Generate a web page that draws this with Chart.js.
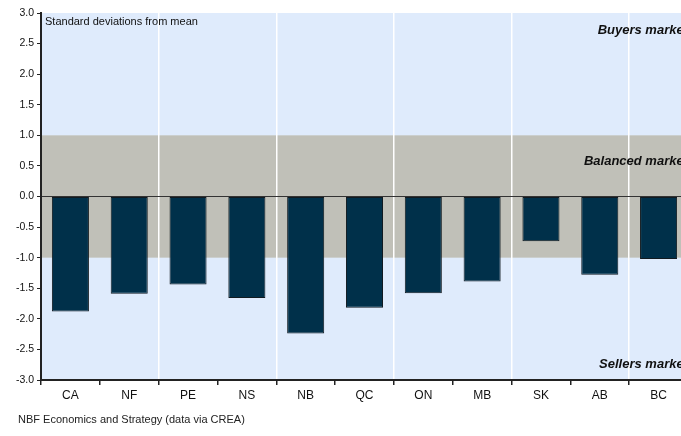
<!DOCTYPE html>
<html>
<head>
<meta charset="utf-8">
<script src="https://cdn.jsdelivr.net/npm/chart.js@4"></script>
<style>
  html, body { margin: 0; padding: 0; overflow: hidden; background: #fff; }
  #wrap { width: 681px; height: 436px; overflow: hidden; }
</style>
</head>
<body>
<div id="wrap"><canvas id="myChart" width="700" height="436"></canvas></div>
<script>
// provinces + national
const regions = ['CA', 'NF', 'PE', 'NS', 'NB', 'QC', 'ON', 'MB', 'SK', 'AB', 'BC'];
const stdDevs = [-1.88, -1.59, -1.44, -1.66, -2.24, -1.82, -1.58, -1.39, -0.73, -1.28, -1.02];
const balancedBand = [-1.0, 1.0];
const zoneLabels = ['Buyers market', 'Balanced market', 'Sellers market'];
const zoneLabelValues = [2.72, 0.57, -2.74];

const FONT = "'Liberation Sans', Arial, sans-serif";

const backdrop = {
  id: 'backdrop',
  beforeDraw(chart) {
    const { ctx, chartArea: a, scales: { y } } = chart;
    ctx.save();
    ctx.fillStyle = '#dfebfc';
    ctx.fillRect(a.left, a.top, a.right - a.left, a.bottom - a.top);
    const yTop = y.getPixelForValue(balancedBand[1]);
    const yBot = y.getPixelForValue(balancedBand[0]);
    ctx.fillStyle = '#c0c0b8';
    ctx.fillRect(a.left, yTop, a.right - a.left, yBot - yTop);
    ctx.restore();
  },
  afterDraw(chart) {
    const { ctx, chartArea: a, scales: { y } } = chart;
    ctx.save();
    ctx.fillStyle = '#111';
    ctx.textBaseline = 'middle';
    ctx.font = '11px ' + FONT;
    ctx.textAlign = 'left';
    ctx.fillText('Standard deviations from mean', a.left + 4, a.top + 9);
    ctx.font = 'italic bold 13px ' + FONT;
    ctx.textAlign = 'right';
    zoneLabels.forEach((t, i) => {
      ctx.fillText(t, a.right, y.getPixelForValue(zoneLabelValues[i]));
    });
    ctx.font = '11px ' + FONT;
    ctx.textAlign = 'left';
    ctx.fillStyle = '#222';
    ctx.fillText('NBF Economics and Strategy (data via CREA)', 18, 420);
    ctx.restore();
  }
};

let ctx = document.getElementById('myChart').getContext('2d');

const barChart = new Chart(ctx, {
  type: 'bar',
  data: {
    labels: regions,
    datasets: [{
      data: stdDevs,
      backgroundColor: '#00304a',
      borderColor: '#111a20',
      borderWidth: 1,
      borderSkipped: false,
      barPercentage: 0.63,
      categoryPercentage: 1.0
    }]
  },
  options: {
    responsive: false,
    animation: false,
    layout: { padding: { top: 13, right: 12, left: 0, bottom: 0 } },
    plugins: {
      legend: { display: false },
      tooltip: { enabled: false }
    },
    scales: {
      x: {
        offset: true,
        border: { display: true, color: '#222', width: 2 },
        grid: {
          offset: true,
          drawTicks: true,
          tickLength: 5,
          color: c => (c.index > 0 && c.index % 2 === 0) ? '#ffffff' : 'rgba(0,0,0,0)',
          tickColor: '#222',
          lineWidth: 1.5
        },
        ticks: { color: '#111', font: { family: FONT, size: 12 }, padding: 3 },
        afterFit: s => { s.height = 56; }
      },
      y: {
        min: -3,
        max: 3,
        border: { display: true, color: '#222', width: 2 },
        grid: {
          drawTicks: true,
          tickLength: 4,
          color: c => (c.tick && c.tick.value === 0) ? '#333' : 'rgba(0,0,0,0)',
          tickColor: '#222'
        },
        ticks: {
          stepSize: 0.5,
          color: '#111',
          font: { family: FONT, size: 10.5 },
          padding: 3,
          callback: v => v.toFixed(1)
        },
        afterFit: s => { s.width = 41; }
      }
    }
  },
  plugins: [backdrop]
});
</script>
</body>
</html>
